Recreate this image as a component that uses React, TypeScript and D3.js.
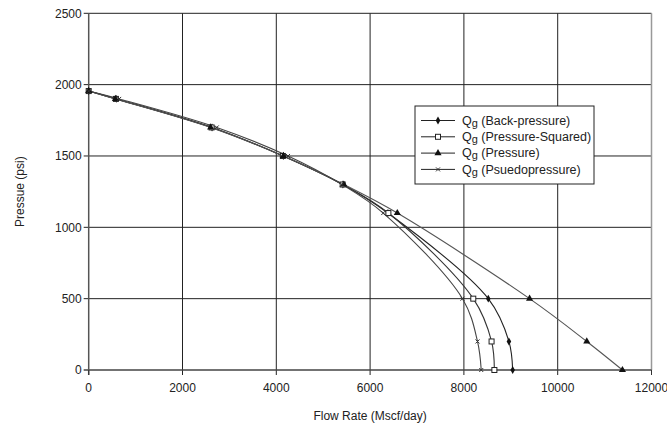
import React from 'react';
import * as d3 from 'd3';

// pressure levels (psi) shared by every series
const pressures = [1955, 1900, 1700, 1500, 1300, 1100, 500, 200, 0];

// flow rates (Mscf/day)
const qBackPressure = [0, 590, 2630, 4150, 5420, 6380, 8520, 8960, 9040];
const qPressureSquared = [0, 580, 2620, 4140, 5415, 6390, 8200, 8590, 8650];
const qPressure = [0, 570, 2600, 4150, 5440, 6580, 9400, 10620, 11380];
const qPseudo = [0, 650, 2730, 4250, 5400, 6280, 7970, 8290, 8370];

const seriesNames = ['(Back-pressure)', '(Pressure-Squared)', '(Pressure)', '(Psuedopressure)'];

const xTicks = [0, 2000, 4000, 6000, 8000, 10000, 12000];
const yTicks = [0, 500, 1000, 1500, 2000, 2500];

const W = 667, H = 425;
const FONT = '"Liberation Sans", Arial, sans-serif';

const x = d3.scaleLinear().domain([0, 12000]).range([88.7, 651.5]);
const y = d3.scaleLinear().domain([0, 2500]).range([370, 13.3]);

type Pt = { q: number; p: number };

const series = [
  { name: seriesNames[0], q: qBackPressure, marker: 'diamond', color: '#222' },
  { name: seriesNames[1], q: qPressureSquared, marker: 'square', color: '#333' },
  { name: seriesNames[2], q: qPressure, marker: 'triangle', color: '#555' },
  { name: seriesNames[3], q: qPseudo, marker: 'cross', color: '#444' },
];

const line = d3.line<Pt>()
  .x(d => x(d.q))
  .y(d => y(d.p))
  .curve(d3.curveCatmullRom.alpha(0.5));

function Marker({ kind, cx, cy }: { kind: string; cx: number; cy: number }) {
  if (kind === 'diamond') {
    const path = d3.symbol().type(d3.symbolDiamond).size(18)();
    return <path d={path || ''} transform={`translate(${cx},${cy})`} fill="#111" />;
  }
  if (kind === 'square') {
    return <rect x={cx - 2.5} y={cy - 2.5} width={5} height={5} fill="#fff" stroke="#222" strokeWidth={1} />;
  }
  if (kind === 'triangle') {
    const path = d3.symbol().type(d3.symbolTriangle).size(22)();
    return <path d={path || ''} transform={`translate(${cx},${cy})`} fill="#111" />;
  }
  return (
    <g stroke="#333" strokeWidth={1}>
      <line x1={cx - 2} y1={cy - 2} x2={cx + 2} y2={cy + 2} />
      <line x1={cx - 2} y1={cy + 2} x2={cx + 2} y2={cy - 2} />
    </g>
  );
}

export default function App() {
  const [x0, x1] = x.range();
  const [y0, y1] = y.range();
  const legX = 415, legY = 106, legW = 179, legH = 78;

  return (
    <svg width={W} height={H} style={{ position: 'absolute', left: 0, top: 0, background: '#fff' }}
      fontFamily={FONT}>
      {/* grid */}
      {xTicks.slice(1, -1).map(t => (
        <line key={'gx' + t} x1={x(t)} x2={x(t)} y1={y1} y2={y0 + 5} stroke="#222" strokeWidth={1} />
      ))}
      {yTicks.slice(1, -1).map(t => (
        <line key={'gy' + t} x1={x0 - 5} x2={x1} y1={y(t)} y2={y(t)} stroke="#222" strokeWidth={1} />
      ))}
      {/* frame */}
      <line x1={x0 - 5} x2={x1} y1={y1} y2={y1} stroke="#222" strokeWidth={1} />
      <line x1={x1} x2={x1} y1={y1} y2={y0} stroke="#999" strokeWidth={1.5} />
      <line x1={x0 - 5} x2={x1} y1={y0} y2={y0} stroke="#444" strokeWidth={1.5} />
      <line x1={x0} x2={x0} y1={y1} y2={y0 + 5} stroke="#555" strokeWidth={1.5} />
      <line x1={x(0)} x2={x(0)} y1={y0} y2={y0 + 5} stroke="#333" />
      <line x1={x(12000)} x2={x(12000)} y1={y0} y2={y0 + 5} stroke="#333" />

      {/* tick labels */}
      {yTicks.map(t => (
        <text key={'ty' + t} x={x0 - 7} y={y(t)} dy="0.35em" textAnchor="end" fontSize={12} fill="#222">{t}</text>
      ))}
      {xTicks.map(t => (
        <text key={'tx' + t} x={x(t)} y={y0 + 22} textAnchor="middle" fontSize={12} fill="#222">{t}</text>
      ))}

      {/* axis titles */}
      <text x={(x0 + x1) / 2} y={420} textAnchor="middle" fontSize={12} fill="#222">Flow Rate (Mscf/day)</text>
      <text transform={`translate(24,${(y0 + y1) / 2}) rotate(-90)`} textAnchor="middle" fontSize={12} fill="#222">Pressue (psi)</text>

      {/* series lines */}
      {series.map(s => {
        const pts: Pt[] = s.q.map((q, i) => ({ q, p: pressures[i] }));
        return <path key={'l' + s.name} d={line(pts) || ''} fill="none" stroke={s.color} strokeWidth={1.1} />;
      })}
      {/* markers */}
      {series.map(s => (
        <g key={'m' + s.name}>
          {s.q.map((q, i) => <Marker key={i} kind={s.marker} cx={x(q)} cy={y(pressures[i])} />)}
        </g>
      ))}

      {/* legend */}
      <rect x={legX} y={legY} width={legW} height={legH} fill="#fff" stroke="#222" strokeWidth={1} />
      {series.map((s, i) => {
        const cy = legY + 14.5 + i * 16.3;
        return (
          <g key={'lg' + s.name}>
            <line x1={legX + 6} x2={legX + 40} y1={cy} y2={cy} stroke="#222" strokeWidth={1} />
            <Marker kind={s.marker} cx={legX + 23} cy={cy} />
            <text x={legX + 47} y={cy} dy="0.35em" fontSize={12.5} fill="#222">
              Q<tspan fontSize={11} dy="2">g</tspan><tspan dy="-2"> {s.name}</tspan>
            </text>
          </g>
        );
      })}
    </svg>
  );
}
